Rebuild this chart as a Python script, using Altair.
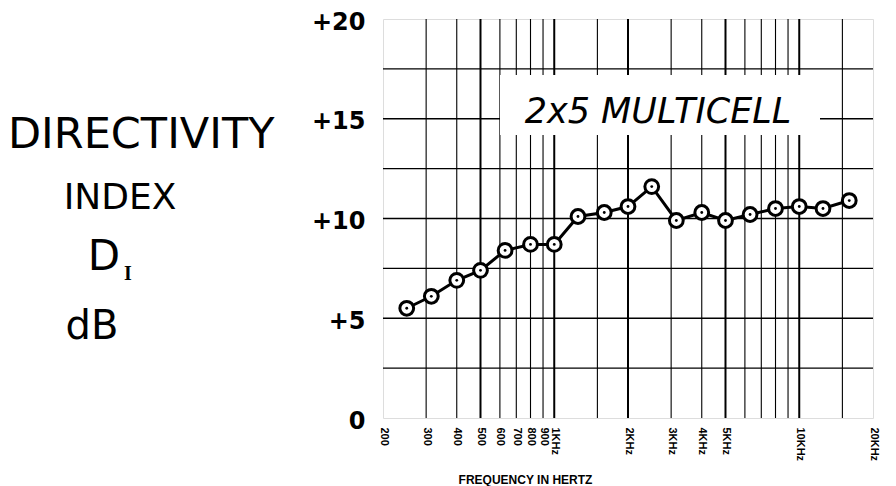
import altair as alt
import pandas as pd

# ---- data ----
freq_hz = [250, 315, 400, 500, 630, 800, 1000, 1250, 1600, 2000,
           2500, 3150, 4000, 5000, 6300, 8000, 10000, 12500, 16000]
di_db = [5.5, 6.1, 6.9, 7.4, 8.4, 8.7, 8.7, 10.1, 10.3, 10.6,
         11.6, 9.9, 10.3, 9.9, 10.2, 10.5, 10.6, 10.5, 10.9]

grid_freq_light = [300, 400, 600, 700, 800, 900, 1500, 3000, 4000,
                   6000, 7000, 8000, 9000, 15000]
grid_freq_heavy = [500, 1000, 2000, 5000, 10000]
grid_db_light = [2.5, 7.5, 12.5, 17.5]
grid_db_heavy = [5, 10, 15]

x_tick_values = [200, 300, 400, 500, 600, 700, 800, 900, 1000,
                 2000, 3000, 4000, 5000, 10000, 20000]
y_tick_values = [0, 5, 10, 15, 20]

curve_label = "2x5 MULTICELL"
left_title = ["DIRECTIVITY", "INDEX", "D", "I", "dB"]
x_title = "FREQUENCY IN HERTZ"

# ---- scales / axes ----
xs = alt.Scale(type="log", domain=[200, 20000], nice=False)
ys = alt.Scale(domain=[0, 20], nice=False)

x_axis = alt.Axis(
    values=x_tick_values,
    labelExpr="datum.value >= 1000 ? (datum.value / 1000) + 'KHz' : '' + datum.value",
    labelAngle=90, labelAlign="left", labelBaseline="middle",
    labelFont="Liberation Sans", labelFontWeight="bold", labelFontSize=11,
    labelColor="black", labelPadding=9, labelOverlap=False, labelFlush=False,
    title=x_title, titleFont="Liberation Sans", titleFontWeight="bold",
    titleFontSize=12, titleColor="black", titleX=142, titleY=61,
    titleAlign="center", titleBaseline="middle",
    grid=False, ticks=False, domain=False,
)
y_axis = alt.Axis(
    values=y_tick_values,
    labelExpr="datum.value == 0 ? '0' : '+' + datum.value",
    labelFont="DejaVu Sans", labelFontSize=24, labelFontWeight="bold",
    labelColor="black", labelPadding=18, labelOffset=3,
    title=None, grid=False, ticks=False, domain=False,
)

X = lambda f: alt.X(f, type="quantitative", scale=xs, axis=x_axis)
Y = lambda f: alt.Y(f, type="quantitative", scale=ys, axis=y_axis)

vlight = alt.Chart(pd.DataFrame({"f": grid_freq_light})).mark_rule(
    color="black", strokeWidth=1.1).encode(x=X("f"))
vheavy = alt.Chart(pd.DataFrame({"f": grid_freq_heavy})).mark_rule(
    color="black", strokeWidth=2).encode(x=X("f"))
hlight = alt.Chart(pd.DataFrame({"v": grid_db_light})).mark_rule(
    color="black", strokeWidth=1.1).encode(y=Y("v"))
hheavy = alt.Chart(pd.DataFrame({"v": grid_db_heavy})).mark_rule(
    color="black", strokeWidth=1.6).encode(y=Y("v"))

one = pd.DataFrame({"a": [0]})
box = alt.Chart(one).mark_rect(color="white").encode(
    x=alt.value(117), x2=alt.value(437), y=alt.value(56), y2=alt.value(116))
label = alt.Chart(pd.DataFrame({"t": [curve_label]})).mark_text(
    font="DejaVu Sans", fontStyle="italic", fontSize=35, color="black",
    align="center", baseline="middle").encode(
    text="t:N", x=alt.value(275), y=alt.value(93))

df = pd.DataFrame({"f": freq_hz, "d": di_db})
line = alt.Chart(df).mark_line(color="black", strokeWidth=3).encode(
    x=X("f"), y=Y("d"))
pts = alt.Chart(df).mark_point(shape="circle", filled=False, fill="white",
                               fillOpacity=1, color="black", strokeWidth=3,
                               size=190, opacity=1).encode(x=X("f"), y=Y("d"))
dots = alt.Chart(df).mark_point(shape="circle", filled=True, color="black",
                                size=8, opacity=1).encode(x=X("f"), y=Y("d"))

def side(text, x, y, size, **kw):
    return alt.Chart(pd.DataFrame({"t": [text]})).mark_text(
        font=kw.pop("font", "DejaVu Sans"), fontSize=size, color="black",
        baseline="middle", **kw).encode(text="t:N", x=alt.value(x), y=alt.value(y))

t1 = side(left_title[0], -375, 116, 43, align="left")
t2 = side(left_title[1], -263, 179, 36, align="center")
t3 = side(left_title[2], -279, 238, 42, align="center")
t4 = side(left_title[3], -255, 255, 20, align="center", font="Liberation Serif",
          fontWeight="bold")
t5 = side(left_title[4], -291, 308, 40, align="center")

chart = alt.layer(
    vlight, vheavy, hlight, hheavy, box, label, line, pts, dots,
    t1, t2, t3, t4, t5
).properties(
    width=490, height=399,
    autosize=alt.AutoSizeParams(type="none"),
    padding={"left": 375, "top": 11, "right": 15, "bottom": 68},
).configure_view(stroke="black", strokeWidth=2.2).configure(background="white")

chart.save("out.html", embed_options={"renderer": "svg", "actions": False})
